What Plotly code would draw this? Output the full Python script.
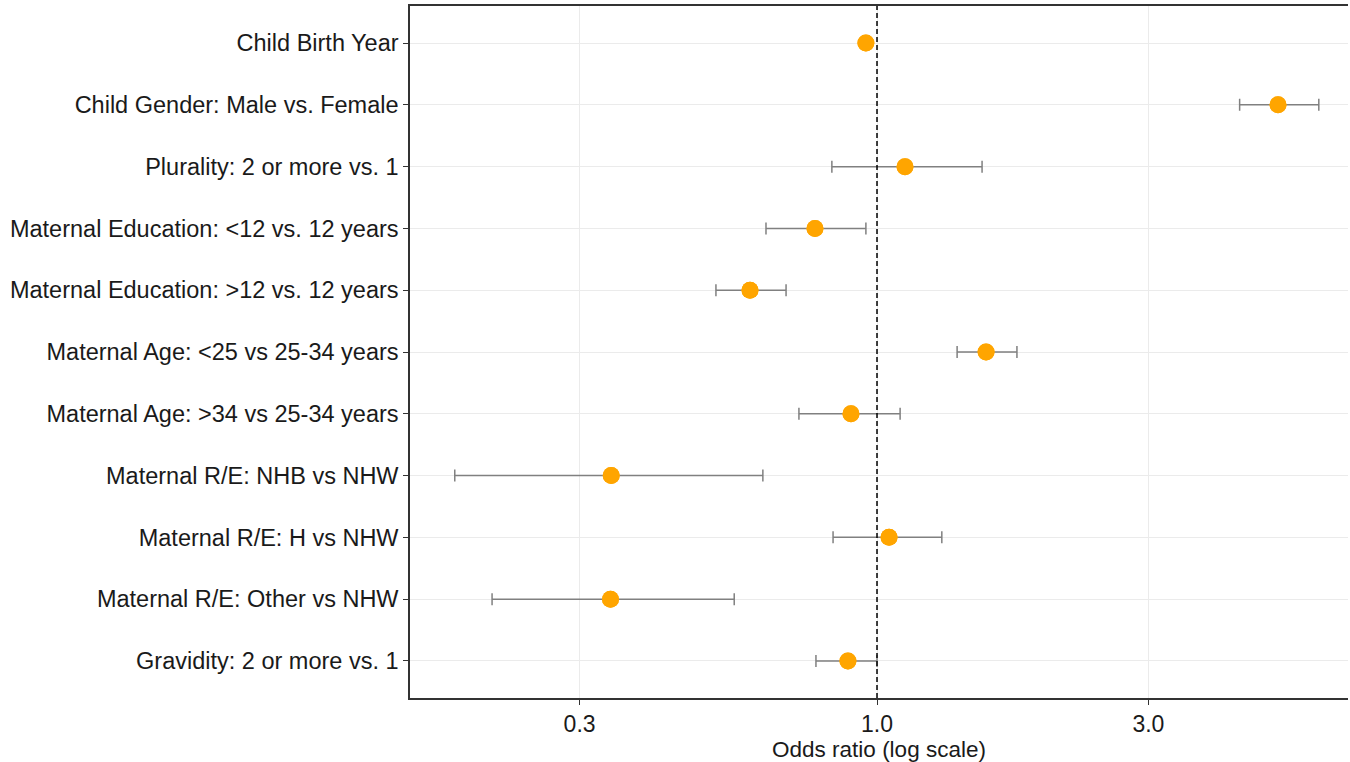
import plotly.graph_objects as go
import numpy as np

labels = [
    "Child Birth Year",
    "Child Gender: Male vs. Female",
    "Plurality: 2 or more vs. 1",
    "Maternal Education: <12 vs. 12 years",
    "Maternal Education: >12 vs. 12 years",
    "Maternal Age: <25 vs 25-34 years",
    "Maternal Age: >34 vs 25-34 years",
    "Maternal R/E: NHB vs NHW",
    "Maternal R/E: H vs NHW",
    "Maternal R/E: Other vs NHW",
    "Gravidity: 2 or more vs. 1",
]
odds_ratio = [0.956, 5.07, 1.12, 0.778, 0.598, 1.555, 0.90, 0.341, 1.05, 0.340, 0.889]
ci_low =     [0.950, 4.34, 0.833, 0.638, 0.521, 1.383, 0.729, 0.181, 0.837, 0.2105, 0.781]
ci_high =    [0.962, 5.98, 1.53, 0.956, 0.692, 1.762, 1.098, 0.630, 1.30, 0.561, 1.0]

x_ticks = [0.3, 1.0, 3.0]
x_ticklabels = ["0.3", "1.0", "3.0"]

n = len(labels)
ypos = list(range(n))

fig = go.Figure()
fig.add_trace(go.Scatter(
    x=odds_ratio, y=ypos, mode="markers",
    marker=dict(color="#FFA500", size=17, line=dict(width=0)),
    error_x=dict(type="data", symmetric=False,
                 array=[h - o for h, o in zip(ci_high, odds_ratio)],
                 arrayminus=[o - l for o, l in zip(odds_ratio, ci_low)],
                 color="#808080", thickness=1.5, width=6),
    showlegend=False,
))
fig.add_trace(go.Scatter(
    x=odds_ratio, y=ypos, mode="markers",
    marker=dict(color="#FFA500", size=17, line=dict(width=0)),
    showlegend=False, hoverinfo="skip",
))

fig.add_shape(type="line", xref="x", yref="paper", x0=1, x1=1, y0=0, y1=1,
              line=dict(color="black", width=1.5, dash="5px,3px"))

fig.update_layout(
    width=1350, height=762,
    margin=dict(l=410, r=2, t=6, b=64),
    plot_bgcolor="white", paper_bgcolor="white",
    font=dict(family="Liberation Sans, Arial, sans-serif", color="#1a1a1a"),
    xaxis=dict(
        type="log",
        range=[np.log10(0.151), np.log10(6.73)],
        tickvals=x_ticks, ticktext=x_ticklabels,
        tickfont=dict(size=23, color="#1a1a1a"),
        showgrid=True, gridcolor="#EBEBEB", gridwidth=1,
        showline=True, linecolor="#333333", linewidth=1.5, mirror=True,
        ticks="outside", ticklen=5, tickcolor="#333333",
        zeroline=False,
        title=dict(text="Odds ratio (log scale)", font=dict(size=22.5, color="#1a1a1a"), standoff=2),
    ),
    yaxis=dict(
        range=[n - 1 + 0.6, -0.6],
        tickvals=ypos, ticktext=labels,
        tickfont=dict(size=23.5, color="#1a1a1a"),
        showgrid=True, gridcolor="#EBEBEB", gridwidth=1,
        showline=True, linecolor="#333333", linewidth=1.5,
        ticks="outside", ticklen=5, tickcolor="#333333",
        zeroline=False,
    ),
)

fig.write_html("out.html", config={"displayModeBar": False},
               post_script="document.body.style.margin='0';document.body.style.overflow='hidden';")
